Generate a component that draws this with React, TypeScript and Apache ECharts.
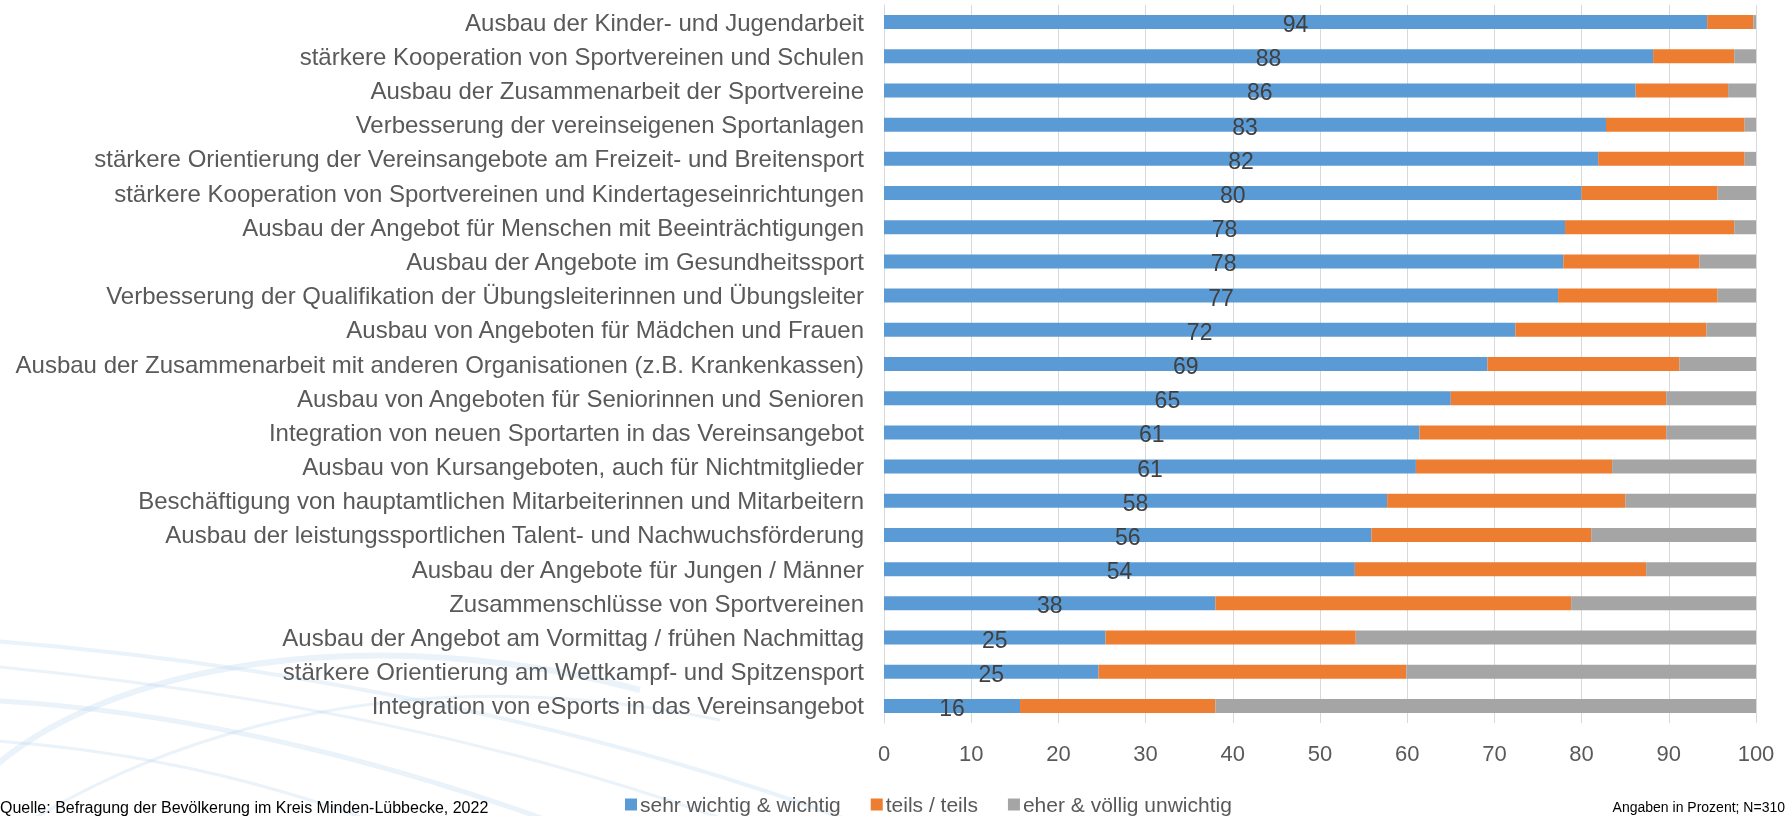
import React, { useEffect, useRef } from "react";
import * as echarts from "echarts";

const categories = [
  "Ausbau der Kinder- und Jugendarbeit",
  "stärkere Kooperation von Sportvereinen und Schulen",
  "Ausbau der Zusammenarbeit der Sportvereine",
  "Verbesserung der vereinseigenen Sportanlagen",
  "stärkere Orientierung der Vereinsangebote am Freizeit- und Breitensport",
  "stärkere Kooperation von Sportvereinen und Kindertageseinrichtungen",
  "Ausbau der Angebot für Menschen mit Beeinträchtigungen",
  "Ausbau der Angebote im Gesundheitssport",
  "Verbesserung der Qualifikation der Übungsleiterinnen und Übungsleiter",
  "Ausbau von Angeboten für Mädchen und Frauen",
  "Ausbau der Zusammenarbeit mit anderen Organisationen (z.B. Krankenkassen)",
  "Ausbau von Angeboten für Seniorinnen und Senioren",
  "Integration von neuen Sportarten in das Vereinsangebot",
  "Ausbau von Kursangeboten, auch für Nichtmitglieder",
  "Beschäftigung von hauptamtlichen Mitarbeiterinnen und Mitarbeitern",
  "Ausbau der leistungssportlichen Talent- und Nachwuchsförderung",
  "Ausbau der Angebote für Jungen / Männer",
  "Zusammenschlüsse von Sportvereinen",
  "Ausbau der Angebot am Vormittag / frühen Nachmittag",
  "stärkere Orientierung am Wettkampf- und Spitzensport",
  "Integration von eSports in das Vereinsangebot",
];

const wichtig = [94.4, 88.2, 86.2, 82.8, 81.9, 80.0, 78.1, 77.9, 77.3, 72.4, 69.2, 65.0, 61.4, 61.0, 57.7, 55.9, 54.0, 38.0, 25.4, 24.6, 15.6];
const teils = [5.3, 9.3, 10.6, 15.9, 16.8, 15.6, 19.4, 15.6, 18.3, 21.9, 22.0, 24.7, 28.3, 22.5, 27.3, 25.2, 33.4, 40.8, 28.7, 35.3, 22.4];
const unwichtig = [0.3, 2.5, 3.2, 1.3, 1.3, 4.4, 2.5, 6.5, 4.4, 5.7, 8.8, 10.3, 10.3, 16.5, 15.0, 18.9, 12.6, 21.2, 45.9, 40.1, 62.0];

const seriesNames = ["sehr wichtig & wichtig", "teils / teils", "eher & völlig unwichtig"];
const xTicks = { min: 0, max: 100, interval: 10 };

export default function App() {
  const ref = useRef<HTMLDivElement>(null);
  useEffect(() => {
    if (!ref.current) return;
    const chart = echarts.init(ref.current, null, { renderer: "svg" });
    const font = "'Liberation Sans', Arial, sans-serif";
    const swoosh = "rgba(190, 215, 238, 0.32)";
    const curve = (x1: number, y1: number, cpx1: number, cpy1: number, cpx2: number, cpy2: number, x2: number, y2: number, w: number) => ({
      type: "bezierCurve",
      z: -10,
      silent: true,
      shape: { x1, y1, cpx1, cpy1, cpx2, cpy2, x2, y2 },
      style: { stroke: swoosh, lineWidth: w, fill: "none" },
    });
    chart.setOption({
      animation: false,
      textStyle: { fontFamily: font },
      grid: { left: 884, right: 33, top: 5, bottom: 93, containLabel: false },
      xAxis: {
        type: "value",
        min: xTicks.min,
        max: xTicks.max,
        interval: xTicks.interval,
        axisLine: { show: false },
        axisTick: { show: false },
        splitLine: { show: true, lineStyle: { color: "#d9d9d9", width: 1 } },
        axisLabel: { color: "#595959", fontSize: 22, margin: 19, fontFamily: font },
      },
      yAxis: {
        type: "category",
        inverse: true,
        data: categories,
        axisLine: { show: true, lineStyle: { color: "#d9d9d9" } },
        axisTick: { show: false },
        axisLabel: { color: "#595959", fontSize: 24, margin: 20, fontFamily: font },
      },
      legend: {
        left: 620,
        top: 789,
        itemWidth: 12,
        itemHeight: 12,
        itemGap: 30,
        icon: "rect",
        textStyle: { color: "#595959", fontSize: 21, fontFamily: font, padding: [0, 0, 0, -2] },
        data: seriesNames,
      },
      graphic: [
        curve(-20, 640, 250, 660, 600, 720, 900, 840, 4),
        curve(-20, 665, 250, 690, 520, 740, 780, 840, 3),
        curve(-20, 700, 200, 710, 420, 770, 600, 840, 5),
        curve(-20, 780, 100, 660, 380, 620, 640, 690, 6),
        curve(0, 840, 180, 720, 430, 660, 720, 720, 3),
        curve(-20, 740, 150, 750, 300, 790, 420, 840, 3),
        {
          type: "text",
          left: 0,
          top: 799,
          style: { text: "Quelle: Befragung der Bevölkerung im Kreis Minden-Lübbecke, 2022", fill: "#000", fontSize: 16, fontFamily: font },
        },
        {
          type: "text",
          right: 4,
          top: 800,
          style: { text: "Angaben in Prozent; N=310", fill: "#000", fontSize: 14, fontFamily: font },
        },
      ],
      series: [
        {
          name: seriesNames[0],
          type: "bar",
          stack: "total",
          barWidth: 14,
          data: wichtig,
          itemStyle: { color: "#5B9BD5" },
          label: {
            show: true,
            position: "inside",
            color: "#404040",
            fontSize: 23,
            fontFamily: font,
            offset: [0, 2],
            formatter: (p: any) => String(Math.round(p.value)),
          },
        },
        { name: seriesNames[1], type: "bar", stack: "total", barWidth: 14, data: teils, itemStyle: { color: "#ED7D31" } },
        { name: seriesNames[2], type: "bar", stack: "total", barWidth: 14, data: unwichtig, itemStyle: { color: "#A5A5A5" } },
      ],
    });
    return () => chart.dispose();
  }, []);
  return <div ref={ref} style={{ position: "fixed", left: 0, top: 0, width: 1789, height: 816 }} />;
}
